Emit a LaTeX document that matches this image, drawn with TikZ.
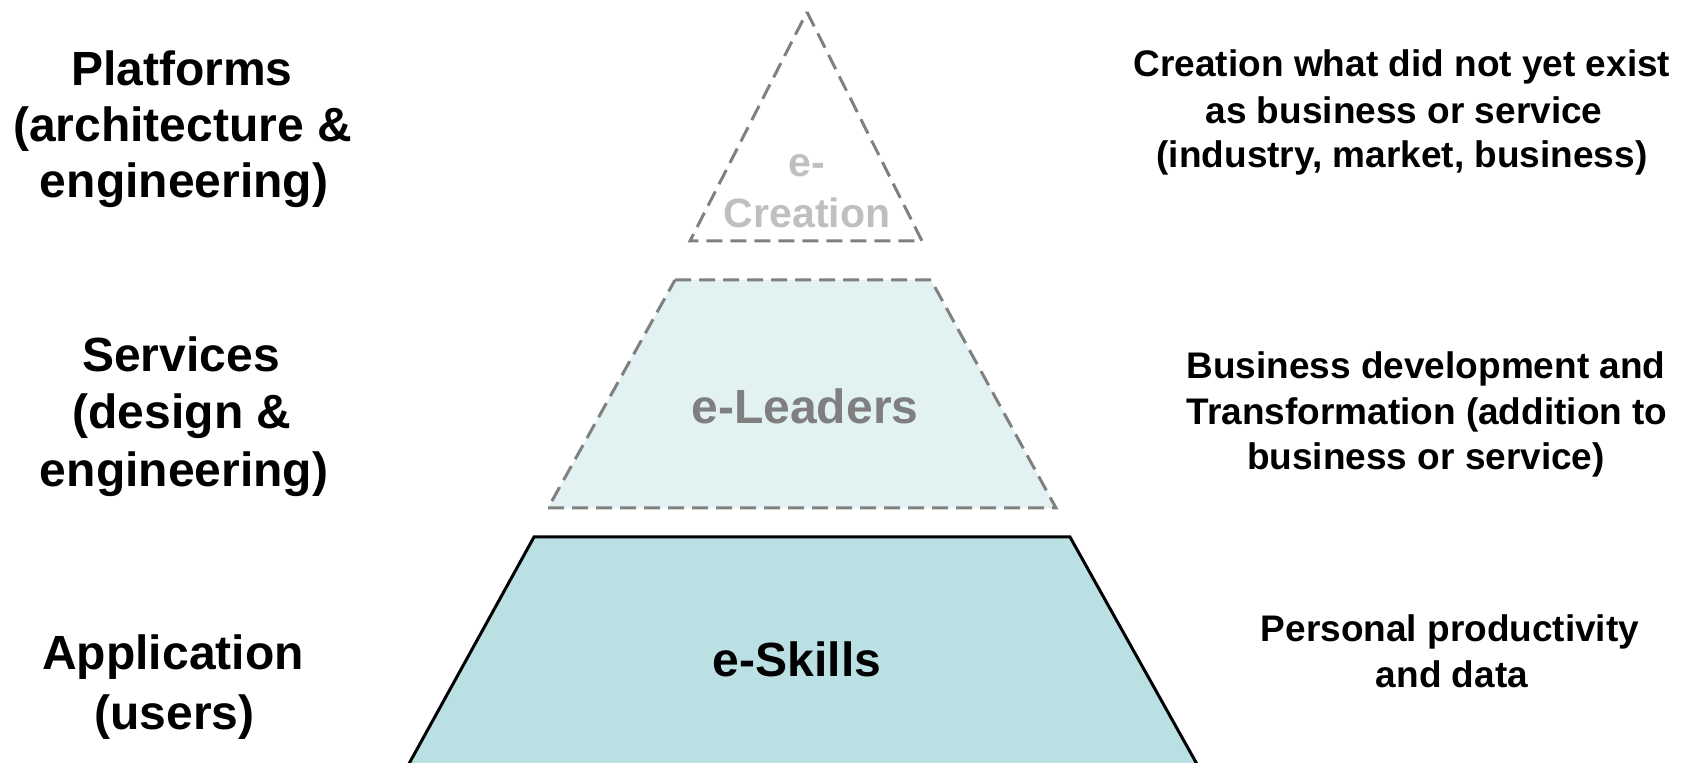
\documentclass[tikz,border=0pt]{standalone}
\usepackage{fontspec}
\setmainfont{Liberation Sans}
\definecolor{dashgray}{HTML}{808080}
\definecolor{lightfill}{HTML}{E2F2F3}
\definecolor{tealfill}{HTML}{BAE0E4}
\definecolor{creagray}{HTML}{BFBFBF}
\definecolor{leadgray}{HTML}{7F7F7F}
\begin{document}
\begin{tikzpicture}[x=0.5pt,y=-0.5pt,
  layerdash/.style={draw=dashgray, line width=1.5pt, dash pattern=on 8pt off 4pt},
  bigtxt/.style={font=\fontsize{24}{24}\selectfont\bfseries, inner sep=0pt, anchor=base},
  creatxt/.style={font=\fontsize{20.5}{20.5}\selectfont\bfseries, inner sep=0pt, anchor=base, text=creagray},
  smalltxt/.style={font=\fontsize{18.5}{18.5}\selectfont\bfseries, inner sep=0pt, anchor=base},
]
\useasboundingbox (0,0) rectangle (1686,763);
% bottom layer
\begin{scope}
\clip (0,0) rectangle (1686,763);
\coordinate (b1) at (534,537);
\coordinate (b2) at (1070,537);
\coordinate (b3) at (1217,800);
\coordinate (b4) at (389,800);
\fill[tealfill] (b1) -- (b2) -- (b3) -- (b4) -- cycle;
\draw[black, line width=1.5pt, line join=miter] (b4) -- (b1) -- (b2) -- (b3);
\end{scope}
% middle layer
\coordinate (m1) at (675,280);
\coordinate (m2) at (931,280);
\coordinate (m3) at (1056,508);
\coordinate (m4) at (548,508);
\filldraw[fill=lightfill, layerdash] (m1) -- (m2) -- (m3) -- (m4) -- cycle;
% top layer
\coordinate (t1) at (807,12);
\coordinate (t2) at (922,241);
\coordinate (t3) at (690,241);
\draw[layerdash] (t1) -- (t2) -- (t3) -- cycle;
% centre labels
\node[creatxt] (ce1) at (807,177) {e-};
\node[creatxt] (ce2) at (807,228) {Creation};
\node[bigtxt, text=leadgray] (le) at (805,424) {e-Leaders};
\node[bigtxt] (sk) at (797,677) {e-Skills};
% left labels
\node[bigtxt] (p1) at (182,86) {Platforms};
\node[bigtxt] (p2) at (182.5,142) {(architecture \&};
\node[bigtxt] (p3) at (184,198) {engineering)};
\node[bigtxt] (s1) at (181,372) {Services};
\node[bigtxt] (s2) at (182,429) {(design \&};
\node[bigtxt] (s3) at (184,487) {engineering)};
\node[bigtxt] (a1) at (173,670) {Application};
\node[bigtxt] (a2) at (174.5,729) {(users)};
% right labels
\node[smalltxt] (r1) at (1402,77) {Creation what did not yet exist};
\node[smalltxt] (r2) at (1404,124) {as business or service};
\node[smalltxt] (r3) at (1402,168) {(industry, market, business)};
\node[smalltxt] (q1) at (1426,379) {Business development and};
\node[smalltxt] (q2) at (1427,425) {Transformation (addition to};
\node[smalltxt] (q3) at (1426,470) {business or service)};
\node[smalltxt] (n1) at (1450,642) {Personal productivity};
\node[smalltxt] (n2) at (1452,688) {and data};
\end{tikzpicture}
\end{document}
